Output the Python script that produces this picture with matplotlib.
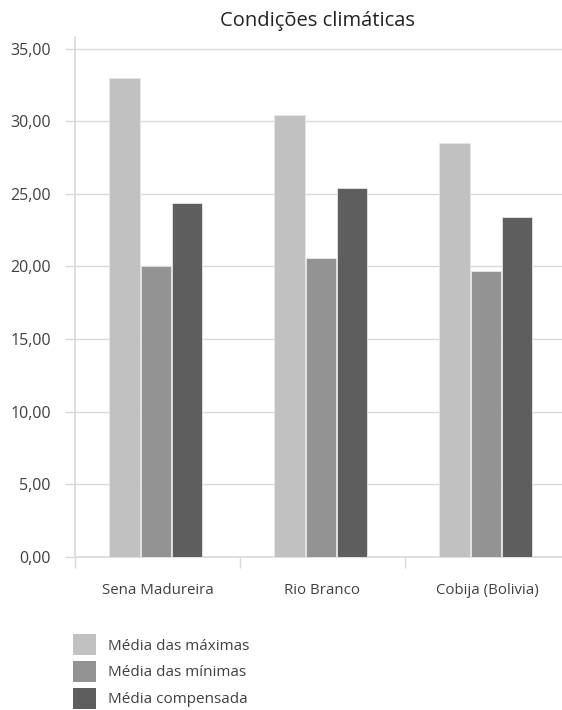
import matplotlib
matplotlib.use("Agg")
import matplotlib.pyplot as plt
import numpy as np

plt.rcParams['font.family'] = ['Open Sans', 'DejaVu Sans']

categories = ["Sena Madureira", "Rio Branco", "Cobija (Bolivia)"]
series_names = ["Média das máximas", "Média das mínimas", "Média compensada"]
media_maximas = [33.0, 30.4, 28.5]
media_minimas = [20.0, 20.6, 19.7]
media_compensada = [24.4, 25.4, 23.4]
y_ticks = [0, 5, 10, 15, 20, 25, 30, 35]
title = "Condições climáticas"

colors = ["#c1c1c1", "#939393", "#5e5e5e"]
text_color = "#404040"
grid_color = "#d9d9d9"

fig = plt.figure(figsize=(5.62, 7.10), dpi=100)
ax = fig.add_axes([75 / 562, (710 - 557) / 710, (570 - 75) / 562, (557 - 37) / 710])

x = np.arange(len(categories))
width = 0.182
offsets = [-width - 0.008, 0.0, width + 0.008]
for vals, off, col, name in zip([media_maximas, media_minimas, media_compensada],
                                offsets, colors, series_names):
    ax.bar(x + off - 0.01, vals, width=width, color=col, edgecolor="#e6e6e6",
           linewidth=0.6, label=name, zorder=3)

ax.set_ylim(0, 35.8)
ax.set_xlim(-0.5, len(categories) - 0.5)
ax.set_yticks(y_ticks)
ax.set_yticklabels([f"{v:.2f}".replace(".", ",") for v in y_ticks])
ax.yaxis.grid(True, color=grid_color, linewidth=1.0, zorder=0)
ax.set_axisbelow(True)

ax.set_xticks(x)
ax.set_xticklabels(categories)
ax.set_xticks(np.arange(len(categories)) - 0.5, minor=True)
ax.tick_params(axis="x", which="major", length=0, pad=19, labelsize=10.8,
               labelcolor=text_color)
ax.tick_params(axis="x", which="minor", length=8, color=grid_color, width=1.0)
ax.tick_params(axis="y", length=7, color=grid_color, width=1.0, pad=10.5,
               labelsize=11.5, labelcolor=text_color)

for side in ["top", "right"]:
    ax.spines[side].set_visible(False)
for side in ["left", "bottom"]:
    ax.spines[side].set_color(grid_color)
    ax.spines[side].set_linewidth(1.2)

fig.text(317 / 562, 1 - 21 / 710, title, ha="center", va="center",
         fontsize=14.5, color="#222222")

handles, labels = ax.get_legend_handles_labels()
leg = fig.legend(handles, labels, loc="upper left",
                 bbox_to_anchor=(67 / 562, 1 - 628 / 710),
                 frameon=False, fontsize=11, handlelength=1.5, handleheight=1.735,
                 handletextpad=0.78, labelspacing=0.38, borderaxespad=0)
for t in leg.get_texts():
    t.set_color(text_color)
for p in leg.get_patches():
    p.set_edgecolor("none")

fig.savefig("out.png", dpi=100, facecolor="white")
